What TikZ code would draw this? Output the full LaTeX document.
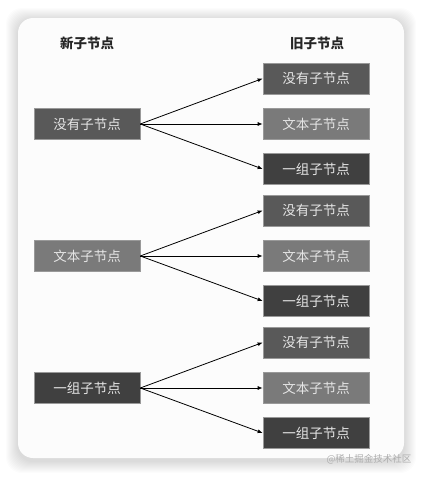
\documentclass[tikz,border=0pt]{standalone}
\usepackage{fontspec}
\newfontfamily\cjk{Noto Sans CJK SC}
\usetikzlibrary{arrows.meta}
\begin{document}
\begin{tikzpicture}[x=1pt, y=-1pt,
    card/.style={fill=white!99!black, rounded corners=15pt},
    head/.style={font=\cjk\bfseries\fontsize{13.5}{16}\selectfont, text=black!85},
    kid/.style={draw=black!40, line width=0.6pt, minimum width=106pt, minimum height=31pt,
                inner sep=0pt, text=white!90!black, font=\cjk\fontsize{13.5}{16}\selectfont},
    nonekid/.style={kid, fill=black!65},
    txtkid/.style={kid, fill=black!52},
    grpkid/.style={kid, fill=black!75},
    link/.style={-{Latex[length=5pt, width=4pt]}, line width=0.8pt},
    wmark/.style={font=\cjk\fontsize{9.5}{11}\selectfont, text=black!32}]
  % A group of old children: #1 = y-coordinate of the new child, #2 = its name.
  \newcommand{\oldgroup}[2]{%
    \node[nonekid] (#2a) at (316,#1-45.5) {没有子节点};
    \node[txtkid]  (#2b) at (316,#1)      {文本子节点};
    \node[grpkid]  (#2c) at (316,#1+45)   {一组子节点};
    \foreach \k in {a,b,c} \draw[link] (#2.east) -- (#2\k.west);}

  \useasboundingbox (0,0) rectangle (422,477);
  \fill[white] (0,0) rectangle (422,477);
  % soft shadow round the card
  \foreach \s in {1,...,12}
    \fill[black, opacity=0.011, rounded corners=16pt] (18-\s,18-\s+2) rectangle (404+\s,458+\s+3);
  \fill[card] (18,18) rectangle (404,458);

  \node[head] (newhead) at (87,43)  {新子节点};
  \node[head] (oldhead) at (317,43) {旧子节点};

  \node[nonekid] (new1) at (87,124) {没有子节点};
  \node[txtkid]  (new2) at (87,256) {文本子节点};
  \node[grpkid]  (new3) at (87,388) {一组子节点};

  \oldgroup{124}{new1}
  \oldgroup{256}{new2}
  \oldgroup{388}{new3}

  \node[wmark] (jjmark) at (369,459) {@稀土掘金技术社区};
\end{tikzpicture}
\end{document}
